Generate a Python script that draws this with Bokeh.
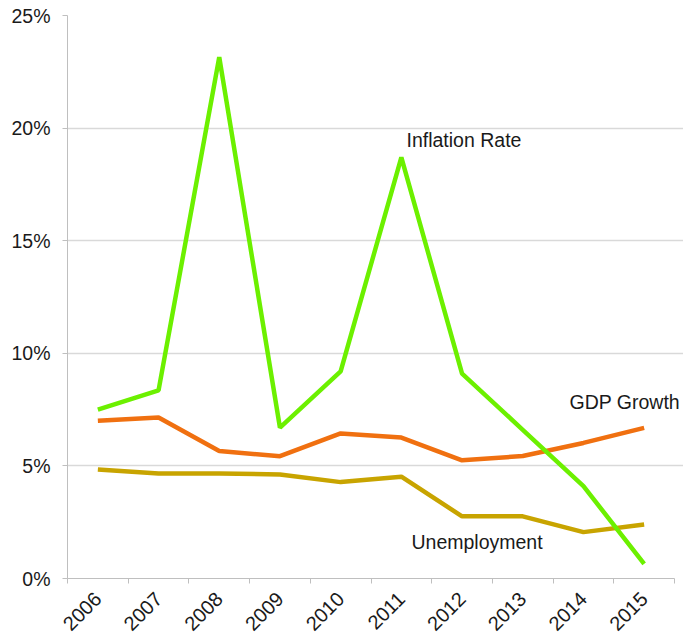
import math
from bokeh.plotting import figure
from bokeh.models import Range1d, FixedTicker, PrintfTickFormatter, ColumnDataSource, Label
from bokeh.embed import file_html
from bokeh.resources import INLINE

years = ["2006", "2007", "2008", "2009", "2010", "2011", "2012", "2013", "2014", "2015"]
inflation = [7.5, 8.35, 23.15, 6.7, 9.2, 18.7, 9.1, 6.6, 4.1, 0.65]
gdp_growth = [7.0, 7.15, 5.66, 5.43, 6.44, 6.26, 5.25, 5.44, 6.02, 6.69]
unemployment = [4.84, 4.66, 4.66, 4.62, 4.28, 4.52, 2.76, 2.76, 2.06, 2.4]
y_ticks = [0, 5, 10, 15, 20, 25]
series_names = ["Inflation Rate", "GDP Growth", "Unemployment"]

FONT = "Liberation Sans"

n = len(years)
xs = [i + 0.5 for i in range(n)]

# frame spans to the right edge of the canvas so the "GDP Growth" label is not clipped;
# grid and axis are bounded to the category area
plot_px = 607.0
frame_px = 683 - 67
p = figure(width=683, height=639, output_backend="svg", toolbar_location=None,
           x_range=Range1d(0, n * frame_px / plot_px), y_range=Range1d(0, 25),
           min_border_left=67, min_border_right=0, min_border_top=15, min_border_bottom=61)
p.outline_line_color = None
p.background_fill_color = "white"
p.border_fill_color = "white"

# x axis
p.xaxis.ticker = FixedTicker(ticks=xs, minor_ticks=list(range(n + 1)))
p.xaxis.bounds = (0, n)
p.xaxis.major_label_overrides = {x: y for x, y in zip(xs, years)}
p.xaxis.major_tick_out = 0
p.xaxis.major_tick_in = 0
p.xaxis.minor_tick_out = 5
p.xaxis.minor_tick_in = 0
p.xaxis.minor_tick_line_color = "#bfbfbf"
p.xaxis.axis_line_color = "#bfbfbf"
p.xaxis.major_label_orientation = math.pi / 4
p.xaxis.major_label_text_font = FONT
p.xaxis.major_label_text_font_size = "20px"
p.xaxis.major_label_text_color = "#1a1a1a"
p.xaxis.major_label_standoff = 12
p.xgrid.grid_line_color = None

# y axis
p.yaxis.ticker = FixedTicker(ticks=y_ticks, minor_ticks=[])
p.yaxis.formatter = PrintfTickFormatter(format="%d%%")
p.yaxis.major_tick_out = 5
p.yaxis.major_tick_in = 0
p.yaxis.major_tick_line_color = "#bfbfbf"
p.yaxis.minor_tick_line_color = None
p.yaxis.axis_line_color = "#bfbfbf"
p.yaxis.major_label_text_font = FONT
p.yaxis.major_label_text_font_size = "19.5px"
p.yaxis.major_label_text_color = "#1a1a1a"
p.yaxis.major_label_standoff = 12
p.ygrid.grid_line_color = "#d9d9d9"
p.ygrid.grid_line_width = 1.5
p.ygrid.bounds = (0, n)

src = ColumnDataSource(dict(x=xs, inflation=inflation, gdp=gdp_growth, unemp=unemployment))
p.line("x", "unemp", source=src, line_color="#c8a400", line_width=4.5)
p.line("x", "gdp", source=src, line_color="#f07010", line_width=4.5)
p.line("x", "inflation", source=src, line_color="#6cf000", line_width=4.5)

label_x = [5.585, 8.27, 5.667]
label_y = [19.45, 7.83, 1.6]
for name, lx, ly in zip(series_names, label_x, label_y):
    p.add_layout(Label(x=lx, y=ly, text=name, text_font=FONT, text_font_size="19.5px",
                       text_color="#1a1a1a", text_align="left", text_baseline="middle"))

open("out.html", "w").write(file_html(p, INLINE))
